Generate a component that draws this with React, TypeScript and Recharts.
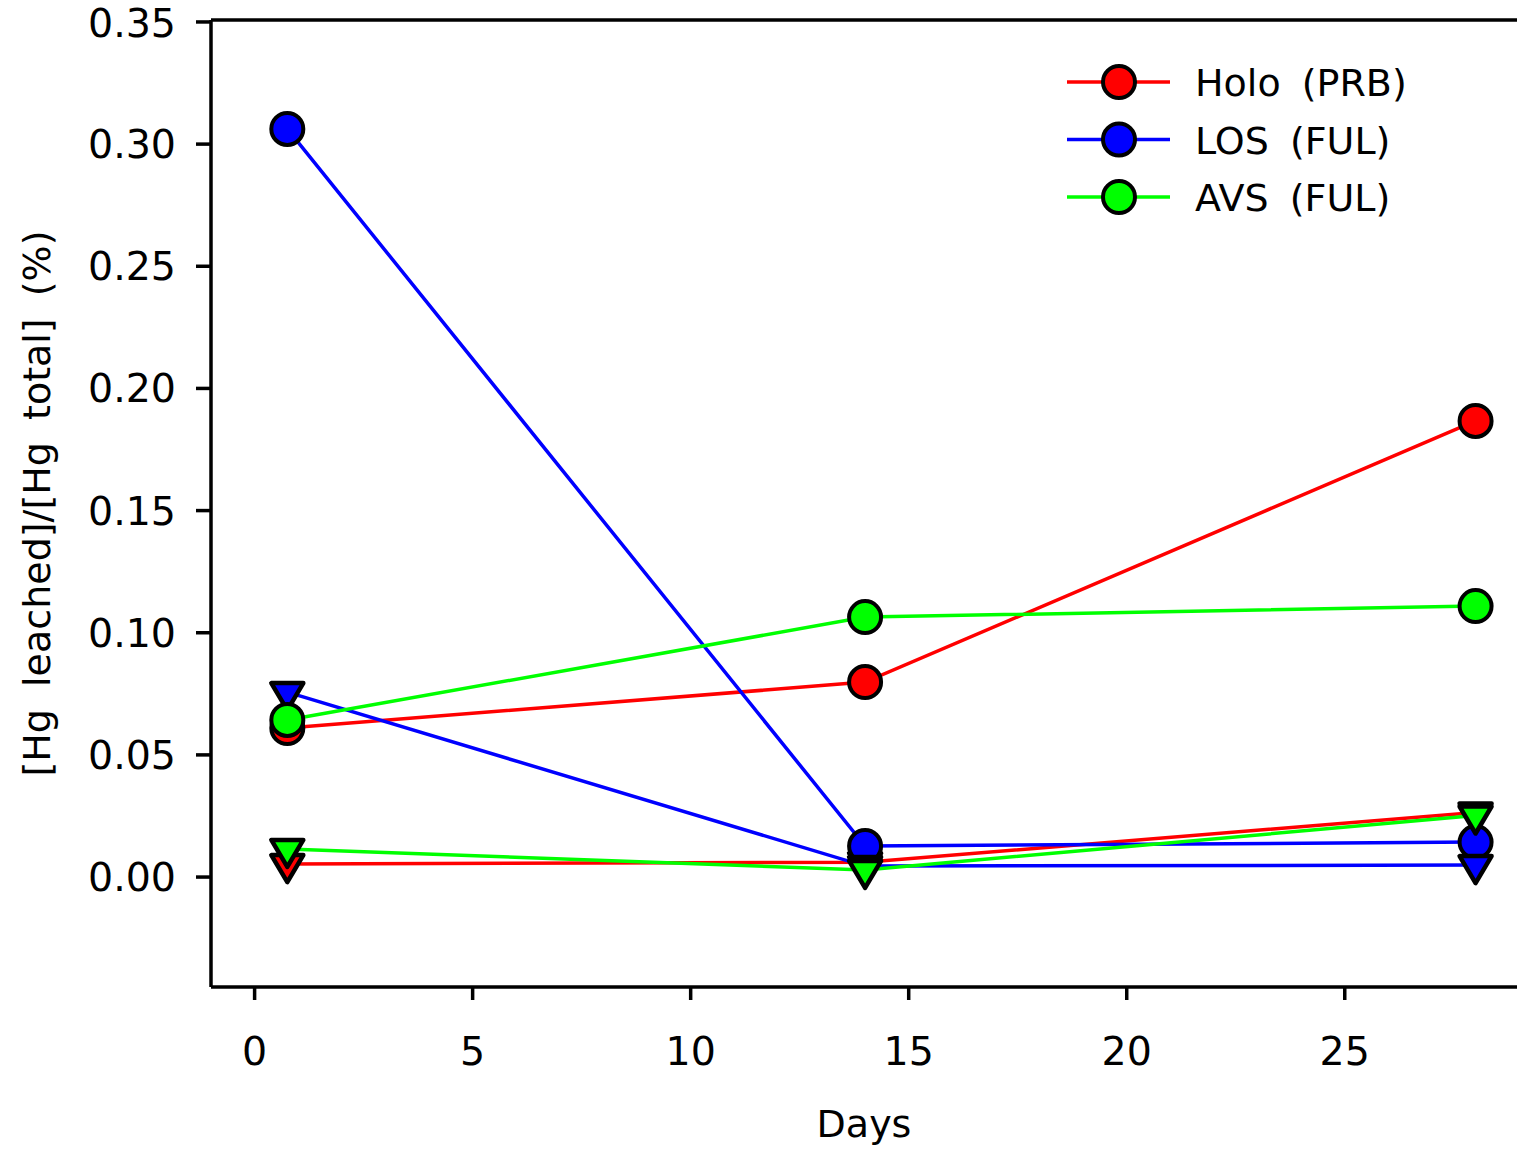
import React from "react";
import { Label, Legend, Line, LineChart, ReferenceLine, XAxis, YAxis } from "recharts";

const DAYS = [0.75, 14, 28];
const HOLO_CIRCLE = [0.061, 0.0798, 0.1867];
const HOLO_TRI = [0.0053, 0.0061, 0.0264];
const LOS_CIRCLE = [0.3062, 0.0127, 0.0143];
const LOS_TRI = [0.0757, 0.0045, 0.0049];
const AVS_CIRCLE = [0.0643, 0.1064, 0.1109];
const AVS_TRI = [0.0115, 0.0029, 0.0252];

const X_TICKS = [0, 5, 10, 15, 20, 25];
const Y_TICKS = [0, 0.05, 0.1, 0.15, 0.2, 0.25, 0.3, 0.35];
const Y_MAX = 0.3508;

const LEGEND = [
  { name: "Holo (PRB)", color: "#ff0000" },
  { name: "LOS (FUL)", color: "#0000ff" },
  { name: "AVS (FUL)", color: "#00ff00" },
];

const FONT = "'DejaVu Sans', Verdana, sans-serif";

const rows = DAYS.map((day, i) => ({
  day,
  holoC: HOLO_CIRCLE[i],
  holoT: HOLO_TRI[i],
  losC: LOS_CIRCLE[i],
  losT: LOS_TRI[i],
  avsC: AVS_CIRCLE[i],
  avsT: AVS_TRI[i],
}));

function circleDot(fill: string) {
  return (p: any) => (
    <circle key={`c-${fill}-${p.index}`} cx={p.cx} cy={p.cy} r={16} fill={fill} stroke="#000" strokeWidth={4} />
  );
}

function triDot(fill: string) {
  return (p: any) => {
    const w = 32;
    const h = 27;
    const { cx, cy } = p;
    const pts = `${cx - w / 2},${cy - h / 3} ${cx + w / 2},${cy - h / 3} ${cx},${cy + (2 * h) / 3}`;
    return (
      <polygon
        key={`t-${fill}-${p.index}`}
        points={pts}
        fill={fill}
        stroke="#000"
        strokeWidth={4.5}
        strokeLinejoin="round"
      />
    );
  };
}

function LegendBox() {
  return (
    <svg width={420} height={180}>
      {LEGEND.map((e, i) => {
        const y = 32 + i * 57.5;
        return (
          <g key={e.name}>
            <line x1={7} x2={110} y1={y} y2={y} stroke={e.color} strokeWidth={3.5} />
            <circle cx={59} cy={y} r={16} fill={e.color} stroke="#000" strokeWidth={4} />
            <text
              x={135}
              y={y + 14}
              fontSize={38}
              fontFamily={FONT}
              fill="#000"
              style={{ wordSpacing: 9 }}
            >
              {e.name}
            </text>
          </g>
        );
      })}
    </svg>
  );
}

const series = [
  { key: "holoC", color: "#ff0000", dot: circleDot("#ff0000") },
  { key: "holoT", color: "#ff0000", dot: triDot("#ff0000") },
  { key: "losC", color: "#0000ff", dot: circleDot("#0000ff") },
  { key: "losT", color: "#0000ff", dot: triDot("#0000ff") },
  { key: "avsC", color: "#00ff00", dot: circleDot("#00ff00") },
  { key: "avsT", color: "#00ff00", dot: triDot("#00ff00") },
];

const axisStroke = { stroke: "#000", strokeWidth: 3.5 };
const tickStyle = { fontSize: 39.5, fill: "#000", fontFamily: FONT };

export default function App() {
  return (
    <div style={{ position: "absolute", left: 0, top: 0, width: 1517, height: 1150, background: "#fff" }}>
      <LineChart width={1517} height={1150} data={rows} margin={{ top: 20, right: 0, left: 0, bottom: 0 }}>
        <XAxis
          dataKey="day"
          type="number"
          domain={[-1, 28.95]}
          ticks={X_TICKS}
          allowDataOverflow
          height={163}
          axisLine={axisStroke}
          tickLine={axisStroke}
          tickSize={13}
          tickMargin={37}
          tick={tickStyle}
        >
          <Label
            content={(p: any) => {
              const vb = p.viewBox || { x: 211, width: 1306 };
              const cx = vb.x + vb.width / 2;
              return (
                <text x={cx} y={1137} textAnchor="middle" fontSize={38} fontFamily={FONT} fill="#000">
                  Days
                </text>
              );
            }}
          />
        </XAxis>
        <YAxis
          type="number"
          domain={[-0.045, Y_MAX]}
          ticks={Y_TICKS}
          allowDataOverflow
          width={211}
          axisLine={axisStroke}
          tickLine={axisStroke}
          tickSize={15}
          tickMargin={20}
          tick={tickStyle}
          tickFormatter={(v: number) => v.toFixed(2)}
        >
          <Label
            content={(p: any) => {
              const vb = p.viewBox || { y: 20, height: 967 };
              const cy = vb.y + vb.height / 2;
              return (
                <text
                  x={37}
                  y={cy}
                  transform={`rotate(-90 37 ${cy})`}
                  textAnchor="middle"
                  dominantBaseline="central"
                  fontSize={38}
                  fontFamily={FONT}
                  fill="#000"
                  style={{ wordSpacing: 10 }}
                >
                  [Hg leached]/[Hg total] (%)
                </text>
              );
            }}
          />
        </YAxis>
        <ReferenceLine y={Y_MAX} stroke="#000" strokeWidth={3.5} />
        <Legend
          layout="vertical"
          align="center"
          verticalAlign="middle"
          wrapperStyle={{ top: 50, left: 1060, width: 420, height: 180 }}
          content={() => <LegendBox />}
        />
        {series.map((s) => (
          <Line
            key={s.key}
            dataKey={s.key}
            type="linear"
            stroke={s.color}
            strokeWidth={3.5}
            dot={s.dot}
            activeDot={false}
            isAnimationActive={false}
          />
        ))}
      </LineChart>
    </div>
  );
}
